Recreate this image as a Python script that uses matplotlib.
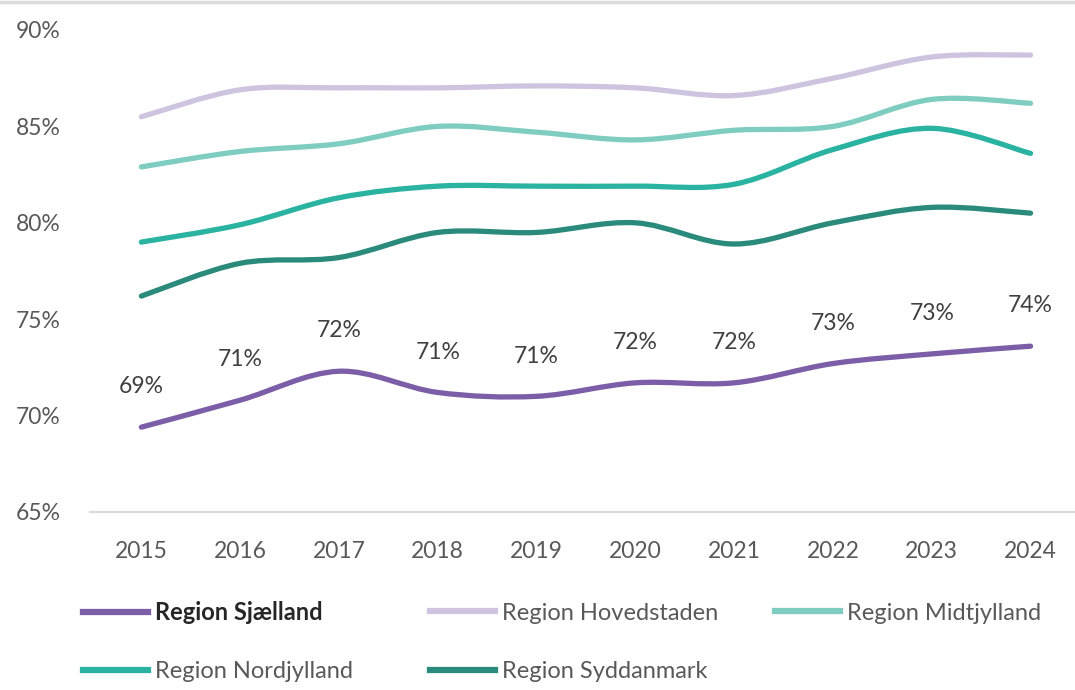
import matplotlib.pyplot as plt
from matplotlib.path import Path
from matplotlib.patches import PathPatch
from matplotlib.lines import Line2D
import numpy as np

plt.rcParams['font.family'] = ['Lato', 'DejaVu Sans']

years = [2015, 2016, 2017, 2018, 2019, 2020, 2021, 2022, 2023, 2024]

sjaelland = [69.4, 70.8, 72.3, 71.2, 71.0, 71.7, 71.7, 72.7, 73.2, 73.6]
hovedstaden = [85.5, 86.9, 87.0, 87.0, 87.1, 87.0, 86.6, 87.5, 88.6, 88.7]
midtjylland = [82.9, 83.7, 84.1, 85.0, 84.7, 84.3, 84.8, 85.0, 86.4, 86.2]
nordjylland = [79.0, 79.9, 81.3, 81.9, 81.9, 81.9, 82.0, 83.8, 84.9, 83.6]
syddanmark = [76.2, 77.9, 78.2, 79.5, 79.5, 80.0, 78.9, 80.0, 80.8, 80.5]

sjaelland_labels = ["69%", "71%", "72%", "71%", "71%", "72%", "72%", "73%", "73%", "74%"]

names = ["Region Sjælland", "Region Hovedstaden", "Region Midtjylland",
         "Region Nordjylland", "Region Syddanmark"]
series = [sjaelland, hovedstaden, midtjylland, nordjylland, syddanmark]
colors = ["#7b5ea7", "#cfc4e0", "#7fcdc1", "#2bb3a1", "#2a8a7b"]


# smoothed line like excel: cubic bezier with neighbour based control points
def smooth_path(x, y):
    pts = np.column_stack([x, y]).astype(float)
    n = len(pts)
    verts = [pts[0]]
    codes = [Path.MOVETO]
    for i in range(n - 1):
        p0 = pts[max(i - 1, 0)]
        p1 = pts[i]
        p2 = pts[i + 1]
        p3 = pts[min(i + 2, n - 1)]
        verts += [p1 + (p2 - p0) / 6, p2 - (p3 - p1) / 6, p2]
        codes += [Path.CURVE4] * 3
    return Path(verts, codes)


fig = plt.figure(figsize=(10.75, 6.9), dpi=100)
ax = fig.add_axes([90 / 1075, 1 - 512 / 690, 985 / 1075, 482 / 690])

# thin grey border at the top of the picture
fig.add_artist(Line2D([0, 1], [0.997, 0.997], color="#dcdcdc", lw=2.5,
                      transform=fig.transFigure))

for vals, c in zip(series[::-1], colors[::-1]):
    ax.add_patch(PathPatch(smooth_path(years, vals), facecolor="none",
                           edgecolor=c, lw=3.8, capstyle="round"))

for x, v, lab in zip(years, sjaelland, sjaelland_labels):
    ax.annotate(lab, (x, v), xytext=(0, 29), textcoords="offset points",
                ha="center", va="center", fontsize=16.5, color="#404040")

ax.set_xlim(2014.48, 2024.45)
ax.set_ylim(65, 90)
ax.set_xticks(years)
ax.set_yticks([65, 70, 75, 80, 85, 90])
ax.set_yticklabels(["65%", "70%", "75%", "80%", "85%", "90%"])
ax.tick_params(axis="both", length=0, labelsize=16.5, labelcolor="#595959")
ax.tick_params(axis="y", pad=21)
ax.tick_params(axis="x", pad=21)
for s in ["top", "right", "left"]:
    ax.spines[s].set_visible(False)
ax.spines["bottom"].set_color("#d9d9d9")
ax.spines["bottom"].set_linewidth(1.5)

# legend entries placed one by one (x of handle start, y of row centre, px)
leg_pos = [(83, 613), (430, 613), (775, 613), (83, 672), (430, 672)]
for i, (px, py) in enumerate(leg_pos):
    leg = fig.legend([Line2D([], [], color=colors[i], lw=4.5)], [names[i]],
                     loc="center left", bbox_to_anchor=(px / 1075, 1 - py / 690),
                     frameon=False, fontsize=17, handlelength=2.75,
                     handletextpad=0.3, borderpad=0, borderaxespad=0)
    t = leg.get_texts()[0]
    t.set_color("#595959")
    if i == 0:
        t.set_fontweight("bold")
        t.set_color("#262626")

fig.savefig("out.png", dpi=100)
